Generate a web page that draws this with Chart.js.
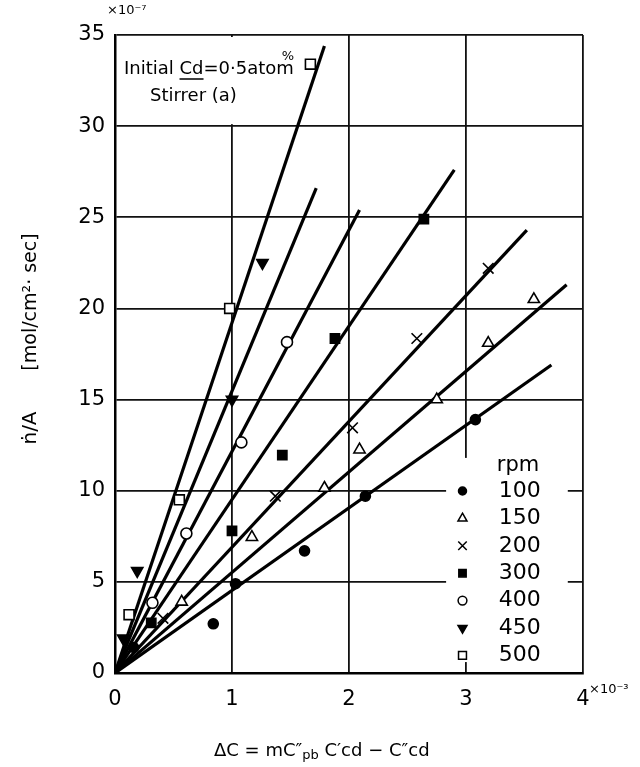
<!DOCTYPE html>
<html lang="en">
<head>
  <meta charset="UTF-8" />
  <title>n/A vs ΔC - Stirrer (a)</title>
  <script src="https://cdn.jsdelivr.net/npm/chart.js"></script>
  <style>
    html, body { margin: 0; padding: 0; background: #fff; }
    #wrap { width: 640px; height: 767px; position: relative; }
  </style>
</head>
<body>
  <div id="wrap"><canvas id="grafica"></canvas></div>
  <script>
    // ---- data (x in 10^-3, y in 10^-7 mol/cm2 sec) ----
    const rpmLabels = ['100', '150', '200', '300', '400', '450', '500'];
    const xTicks = [0, 1, 2, 3, 4];
    const yTicks = [0, 5, 10, 15, 20, 25, 30, 35];

    const pts100 = [[0.16, 1.4], [0.84, 2.7], [1.03, 4.9], [1.62, 6.7], [2.14, 9.7], [3.08, 13.9]];
    const pts150 = [[0.57, 3.9], [1.17, 7.45], [1.79, 10.15], [2.09, 12.25], [2.75, 15.0], [3.19, 18.1], [3.58, 20.5]];
    const pts200 = [[0.41, 3.0], [1.37, 9.7], [2.03, 13.45], [2.58, 18.35], [3.19, 22.2]];
    const pts300 = [[0.31, 2.75], [1.0, 7.8], [1.43, 11.95], [1.88, 18.35], [2.64, 24.9]];
    const pts400 = [[0.32, 3.85], [0.61, 7.65], [1.08, 12.65], [1.47, 18.15]];
    const pts450 = [[0.07, 1.9], [0.19, 5.6], [1.0, 15.0], [1.26, 22.5]];
    const pts500 = [[0.12, 3.2], [0.55, 9.5], [0.98, 20.0], [1.67, 33.4]];

    // fitted lines: start and end of each drawn line
    const fit100 = [[0, 0], [3.73, 16.9]];
    const fit150 = [[0, 0], [3.86, 21.3]];
    const fit200 = [[0, 0], [3.52, 24.3]];
    const fit300 = [[0, 0], [2.9, 27.6]];
    const fit400 = [[0, 0], [2.09, 25.4]];
    const fit450 = [[0, 0], [1.72, 26.6]];
    const fit500 = [[0, 0], [1.79, 34.4]];

    const puntos = [pts100, pts150, pts200, pts300, pts400, pts450, pts500];
    const ajustes = [fit100, fit150, fit200, fit300, fit400, fit450, fit500];

    // marker look per series
    const estilos = [
      { pointStyle: 'circle', rotation: 0, radius: 5, fill: '#000' },
      { pointStyle: 'triangle', rotation: 0, radius: 6.5, fill: '#fff' },
      { pointStyle: 'crossRot', rotation: 0, radius: 7.5, fill: '#fff' },
      { pointStyle: 'rect', rotation: 0, radius: 6.5, fill: '#000' },
      { pointStyle: 'circle', rotation: 0, radius: 5.5, fill: '#fff' },
      { pointStyle: 'triangle', rotation: 180, radius: 6.5, fill: '#000' },
      { pointStyle: 'rect', rotation: 0, radius: 7, fill: '#fff' }
    ];

    const FONT = '"DejaVu Sans", sans-serif';
    const toXY = arr => arr.map(p => ({ x: p[0], y: p[1] }));

    const datasets = [];
    ajustes.forEach((f, i) => {
      datasets.push({
        label: 'fit ' + rpmLabels[i],
        data: toXY(f),
        showLine: true,
        borderColor: '#000',
        borderWidth: 3.2,
        pointRadius: 0,
        order: 2
      });
    });
    puntos.forEach((p, i) => {
      const e = estilos[i];
      datasets.push({
        label: rpmLabels[i],
        data: toXY(p),
        showLine: false,
        pointStyle: e.pointStyle,
        rotation: e.rotation,
        pointRadius: e.radius,
        pointBorderWidth: 1.6,
        pointBorderColor: '#000',
        pointBackgroundColor: e.fill,
        order: 1
      });
    });

    function texto(ctx, str, x, y, size, align) {
      ctx.font = size + 'px ' + FONT;
      ctx.textAlign = align || 'left';
      ctx.textBaseline = 'middle';
      ctx.fillText(str, x, y);
      return ctx.measureText(str).width;
    }

    // white patches, labels, legend and axis titles
    const decoraciones = {
      id: 'decoraciones',
      beforeDatasetsDraw(chart) {
        const { ctx, chartArea: a, scales: { x, y } } = chart;
        ctx.save();
        ctx.fillStyle = '#fff';
        // annotation box (no grid behind it)
        ctx.fillRect(a.left + 2, a.top + 2, x.getPixelForValue(1.9) - a.left - 2, y.getPixelForValue(30) - a.top - 4);
        // legend box
        const lx0 = x.getPixelForValue(2.83), lx1 = x.getPixelForValue(3.87);
        const ly0 = y.getPixelForValue(11.8), ly1 = y.getPixelForValue(0.6);
        ctx.fillRect(lx0, ly0, lx1 - lx0, ly1 - ly0);
        ctx.restore();
      },
      afterDraw(chart) {
        const { ctx, chartArea: a, scales: { x, y } } = chart;
        ctx.save();
        ctx.fillStyle = '#000';
        ctx.strokeStyle = '#000';

        // annotation
        let cx = a.left + 9;
        const ay = 69;
        cx += texto(ctx, 'Initial ', cx, ay, 18);
        const wCd = texto(ctx, 'Cd', cx, ay, 18);
        ctx.lineWidth = 1.5;
        ctx.beginPath();
        ctx.moveTo(cx, ay + 10);
        ctx.lineTo(cx + wCd, ay + 10);
        ctx.stroke();
        cx += wCd;
        cx += texto(ctx, '=0·5atom', cx, ay, 18);
        texto(ctx, '%', cx - 12, ay - 12, 13);
        texto(ctx, 'Stirrer (a)', a.left + 35, 96, 18);

        // exponents
        texto(ctx, '×10⁻⁷', a.left - 8, 11, 13);
        texto(ctx, '×10⁻³', a.right + 6, 690, 13);

        // legend
        const mx = x.getPixelForValue(2.97);
        const tx = x.getPixelForValue(3.28);
        texto(ctx, 'rpm', tx - 2, 466, 21);
        rpmLabels.forEach((lab, i) => {
          const ry = 491 + i * 27.4;
          texto(ctx, lab, tx, ry, 22);
          const e = estilos[i];
          ctx.fillStyle = e.fill;
          ctx.lineWidth = 1.5;
          if (Chart.helpers && Chart.helpers.drawPoint) {
            Chart.helpers.drawPoint(ctx, {
              pointStyle: e.pointStyle, rotation: e.rotation,
              radius: e.radius * 0.8, borderWidth: 1.5
            }, mx, ry);
          }
          ctx.fillStyle = '#000';
        });

        // axis titles
        ctx.save();
        ctx.translate(31, 0);
        ctx.rotate(-Math.PI / 2);
        texto(ctx, 'ṅ/A', -428, 0, 20, 'center');
        texto(ctx, '[mol/cm²· sec]', -302, 0, 19, 'center');
        ctx.restore();

        let bx = 214;
        const by = 751;
        bx += texto(ctx, 'ΔC = mC″', bx, by, 18);
        bx += texto(ctx, 'pb', bx, by + 5, 13);
        texto(ctx, ' C′cd − C″cd', bx, by, 18);

        ctx.restore();
      }
    };

    new Chart(document.getElementById('grafica'), {
      type: 'scatter',
      data: { datasets },
      plugins: [decoraciones],
      options: {
        responsive: true,
        maintainAspectRatio: false,
        animation: false,
        events: [],
        layout: { padding: { top: 35, right: 57, left: 0, bottom: 0 } },
        plugins: { legend: { display: false }, tooltip: { enabled: false } },
        scales: {
          x: {
            type: 'linear', min: xTicks[0], max: xTicks[xTicks.length - 1],
            afterBuildTicks: s => { s.ticks = xTicks.map(v => ({ value: v })); },
            afterFit: s => { s.height = 94; },
            ticks: { color: '#000', font: { family: FONT, size: 21 }, padding: 14 },
            grid: { color: '#111', lineWidth: 1.8, drawTicks: false },
            border: { color: '#000', width: 2.5 }
          },
          y: {
            type: 'linear', min: yTicks[0], max: yTicks[yTicks.length - 1],
            afterBuildTicks: s => { s.ticks = yTicks.map(v => ({ value: v })); },
            afterFit: s => { s.width = 115; },
            ticks: { color: '#000', font: { family: FONT, size: 21 }, padding: 10 },
            grid: { color: '#111', lineWidth: 1.8, drawTicks: false },
            border: { color: '#000', width: 2.5 }
          }
        }
      }
    });
  </script>
</body>
</html>
